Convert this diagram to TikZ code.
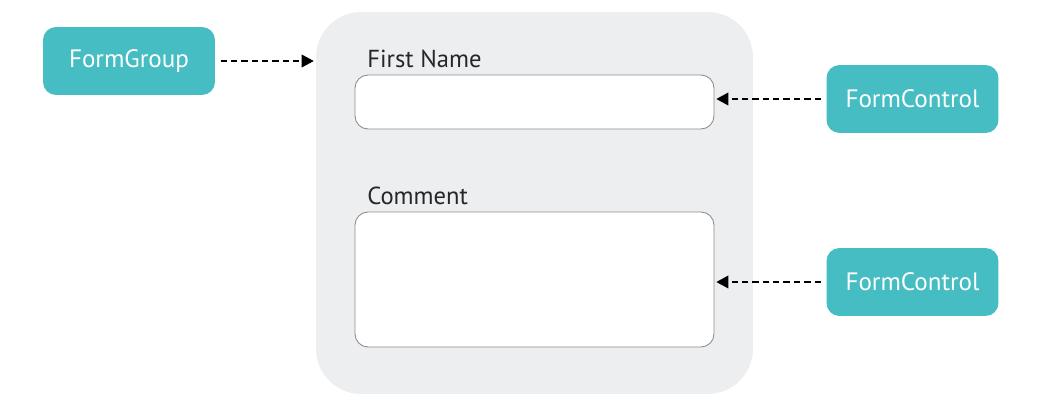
\documentclass[tikz,border=0pt]{standalone}
\usepackage{fontspec}
\setmainfont{PT Sans}
\usepackage{tikz}
\usetikzlibrary{arrows.meta,
                positioning}

\definecolor{formteal}{HTML}{45BDC2}
\definecolor{formpanel}{HTML}{EDEEF0}
\definecolor{fieldline}{HTML}{8C8C8C}

\tikzset{
    ctrlbox/.style={fill=formteal, rounded corners=0.26cm, text=white,
                    minimum width=3.44cm, minimum height=1.36cm,
                    font=\fontsize{14.3}{16}\selectfont},
    formbox/.style={fill=formpanel, rounded corners=0.9cm,
                    minimum width=8.74cm, minimum height=7.64cm},
    fieldbox/.style={draw=fieldline, fill=white, line width=0.5pt,
                     rounded corners=0.26cm, minimum width=7.18cm},
    fieldcap/.style={anchor=base west, inner sep=0pt, text=black!85,
                     font=\fontsize{14}{16}\selectfont},
    link/.style={-{Triangle[length=7pt,width=7pt]}, line width=1.6pt,
                 dash pattern=on 3.6pt off 2.3pt, shorten <=3pt, shorten >=1pt}
}

\begin{document}
\begin{tikzpicture}[x=0.02cm, y=-0.02cm]
    \useasboundingbox (0,0) rectangle (1042,406);

    % the form
    \node[formbox] (form) at (534.5,203) {};
    \node[fieldbox, minimum height=1.08cm] (namefield) at (534.5,102) {};
    \node[fieldbox, minimum height=2.7cm] (commentfield) at (534.5,279.5) {};
    \node[fieldcap] (namecap) at (367,67) {First Name};
    \node[fieldcap] (commentcap) at (367,204) {Comment};

    % the controls
    \node[ctrlbox] (group) at (129,61) {FormGroup};
    \node[ctrlbox] (control1) at (912.5,99) {FormControl};
    \node[ctrlbox] (control2) at (912.5,282) {FormControl};

    \draw[link] (group.east) -- (form.west |- group.east);
    \draw[link] (control1.west) -- (namefield.east |- control1.west);
    \draw[link] (control2.west) -- (commentfield.east |- control2.west);
\end{tikzpicture}
\end{document}
